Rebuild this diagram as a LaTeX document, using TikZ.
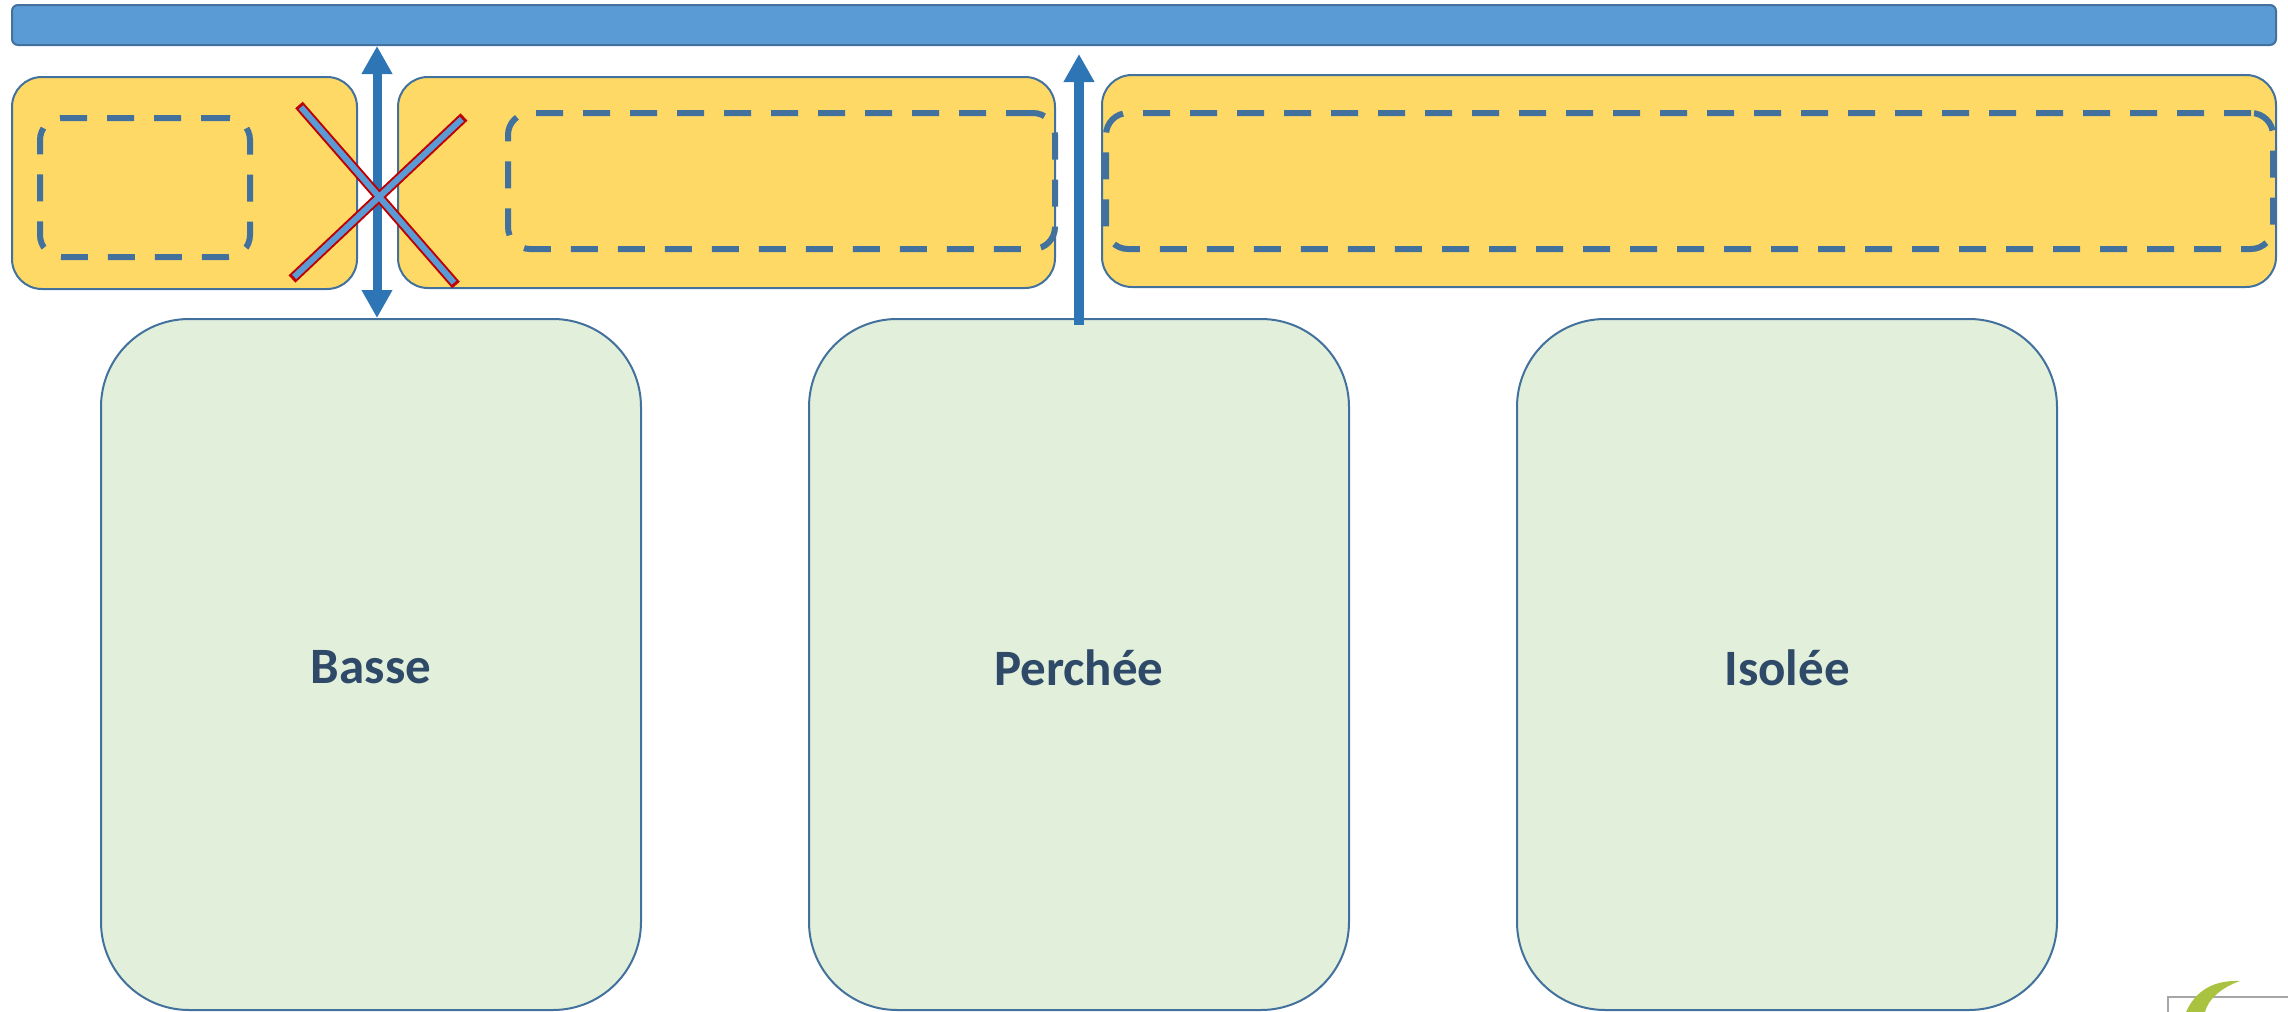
\documentclass[tikz,border=0pt]{standalone}
\usepackage{fontspec}
\setmainfont{Carlito}
\usetikzlibrary{arrows.meta,fit,calc}
\definecolor{barblue}{HTML}{5B9BD5}
\definecolor{edgeblue}{HTML}{41719C}
\definecolor{arrowblue}{HTML}{2E75B6}
\definecolor{boxyellow}{HTML}{FFD966}
\definecolor{boxgreen}{HTML}{E2EFDA}
\definecolor{crossred}{HTML}{C00000}
\definecolor{labelblue}{HTML}{2F4A68}
\definecolor{logogreen}{HTML}{A9C23F}
\begin{document}
\begin{tikzpicture}[x=0.5pt,y=-0.5pt,
  topbar/.style={draw=edgeblue, fill=barblue, line width=1pt, rounded corners=3pt, inner sep=0pt},
  outerbox/.style={draw=edgeblue, fill=boxyellow, line width=1pt, rounded corners=15pt, inner sep=0pt},
  innerbox/.style={draw=edgeblue, line width=3pt, dash pattern=on 13.5pt off 10pt, rounded corners=11pt, inner sep=0pt},
  greenbox/.style={draw=edgeblue, fill=boxgreen, line width=1pt, rounded corners=44pt, inner sep=0pt},
  boxlabel/.style={font=\bfseries\fontsize{25.5}{30}\selectfont, text=labelblue, inner sep=0pt},
  dblarrow/.style={draw=arrowblue, line width=4.5pt, {Triangle[length=14pt,width=14.5pt]}-{Triangle[length=14pt,width=14.5pt]}},
  uparrow/.style={draw=arrowblue, line width=5pt, -{Triangle[length=14pt,width=14.5pt]}},
  crossout/.style={draw=crossred, line width=5pt, line cap=butt},
  crossin/.style={draw=barblue, line width=3pt, line cap=butt}
]
\useasboundingbox (0,0) rectangle (2288,1012);
\clip (0,0) rectangle (2288,1012);

% top bar
\node[topbar, fit={(12,5)(2276,45)}] (bar) {};

% yellow boxes
\node[outerbox, fit={(12,77)(357,289)}] (y1) {};
\node[innerbox, fit={(40,118)(250,257)}] (d1) {};
\node[outerbox, fit={(398,77)(1055,288)}] (y2) {};
\node[innerbox, fit={(508,113)(1055,249)}] (d2) {};
\node[outerbox, fit={(1102,75)(2276,287)}] (y3) {};
\node[innerbox, fit={(1106,113)(2273,249)}] (d3) {};

% green boxes
\node[greenbox, fit={(101,319)(641,1010)}] (gA) {};
\node[greenbox, fit={(809,319)(1349,1010)}] (gB) {};
\node[greenbox, fit={(1517,319)(2057,1010)}] (gC) {};
\node[boxlabel] (tA) at ($(gA.center)+(0,3)$) {Basse};
\node[boxlabel] (tB) at ($(gB.center)+(0,3)$) {Perchée};
\node[boxlabel] (tC) at ($(gC.center)+(0,3)$) {Isolée};

% arrows
\coordinate (a1x) at (377,0);
\coordinate (a2x) at (1079,0);
\draw[dblarrow] (bar.south -| a1x) -- (gA.north -| a1x);
\draw[uparrow] ($(gB.north -| a2x)+(0,7)$) -- ($(bar.south -| a2x)+(0,8)$);

% cross
\coordinate (c1a) at (299,105);
\coordinate (c1b) at (456,285);
\coordinate (c2a) at (292,279);
\coordinate (c2b) at (464,117);
\draw[crossout] (c1a) -- (c1b);
\draw[crossout] (c2a) -- (c2b);
\draw[crossin] ($(c1a)!1.5pt!(c1b)$) -- ($(c1b)!1.5pt!(c1a)$);
\draw[crossin] ($(c2a)!1.5pt!(c2b)$) -- ($(c2b)!1.5pt!(c2a)$);

% partial logo, bottom right
\draw[gray!70, line width=0.6pt] (2168,997) rectangle (2300,1040);
\fill[logogreen] (2186,1012) .. controls (2196,990) and (2214,980) .. (2240,981)
  .. controls (2220,988) and (2208,1000) .. (2205,1012) -- cycle;
\end{tikzpicture}
\end{document}
